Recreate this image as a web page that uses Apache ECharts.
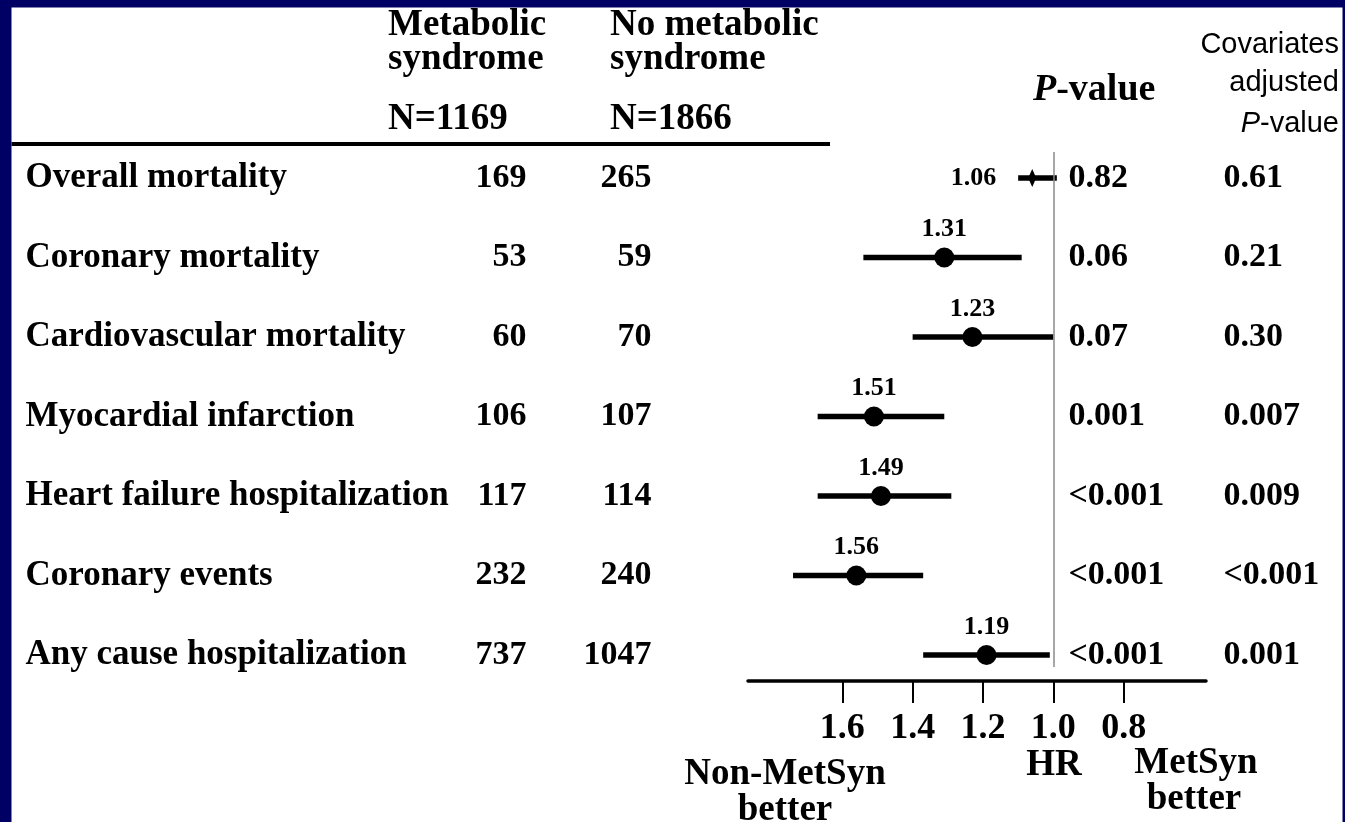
<!DOCTYPE html>
<html>
<head>
<meta charset="utf-8">
<script src="https://cdn.jsdelivr.net/npm/echarts@6/dist/echarts.min.js"></script>
<style>
  html, body { margin: 0; padding: 0; background: #000064; }
  #chart { width: 1345px; height: 822px; }
</style>
</head>
<body>
<div id="chart"></div>
<script>
// Outcomes and event counts
const outcomes = [
  'Overall mortality',
  'Coronary mortality',
  'Cardiovascular mortality',
  'Myocardial infarction',
  'Heart failure hospitalization',
  'Coronary events',
  'Any cause hospitalization'
];
const eventsMetSyn = [169, 53, 60, 106, 117, 232, 737];
const eventsNoMetSyn = [265, 59, 70, 107, 114, 240, 1047];

// Hazard ratios with confidence limits
const hazardRatio = [1.06, 1.31, 1.23, 1.51, 1.49, 1.56, 1.19];
const ciLower = [0.99, 1.09, 1.00, 1.31, 1.29, 1.37, 1.01];
const ciUpper = [1.10, 1.54, 1.40, 1.67, 1.67, 1.74, 1.37];

// P-values
const pValue = ['0.82', '0.06', '0.07', '0.001', '<0.001', '<0.001', '<0.001'];
const pAdjusted = ['0.61', '0.21', '0.30', '0.007', '0.009', '<0.001', '0.001'];

// HR axis ticks
const hrTicks = [0.8, 1.0, 1.2, 1.4, 1.6];

const SERIF = "'Liberation Serif', 'Times New Roman', serif";
const SANS = "'Liberation Sans', Arial, sans-serif";

// Row layout shared by the table and the forest plot
const plotTop = 152, plotHeight = 529;
const rowMin = -0.327, rowMax = 6.327;

// Column anchors of the text table (pixels across the page)
const colName = 25, colMetSyn = 527, colNoMetSyn = 652, colP = 1068, colPAdj = 1223;

function textColumn(values, x, side, size) {
  return {
    type: 'scatter',
    xAxisIndex: 1,
    yAxisIndex: 1,
    symbolSize: 1,
    itemStyle: { color: 'rgba(0,0,0,0)', opacity: 1 },
    silent: true,
    data: values.map((v, i) => ({ value: [x, i], name: String(v) })),
    label: {
      show: true,
      position: side,
      distance: 0,
      formatter: p => p.name,
      fontFamily: SERIF,
      fontWeight: 'bold',
      fontSize: size,
      color: '#000'
    }
  };
}

function gText(text, x, y, opt) {
  return {
    type: 'text',
    x: x,
    y: y,
    silent: true,
    style: Object.assign({
      text: text,
      fill: '#000',
      font: 'bold 37px ' + SERIF,
      textAlign: 'left',
      textVerticalAlign: 'middle'
    }, opt || {})
  };
}

const chart = echarts.init(document.getElementById('chart'), null, { renderer: 'canvas' });

chart.setOption({
  animation: false,
  backgroundColor: '#000064',
  graphic: [
    { type: 'rect', shape: { x: 11.5, y: 7.5, width: 1331, height: 830 }, style: { fill: '#fff' }, silent: true, z: -10 },
    // header rule
    { type: 'line', shape: { x1: 11.5, y1: 144, x2: 830, y2: 144 }, style: { stroke: '#000', lineWidth: 4 }, silent: true },
    // group headers
    gText('Metabolic', 388, 25),
    gText('syndrome', 388, 59),
    gText('N=1169', 388, 119),
    gText('No metabolic', 610, 25),
    gText('syndrome', 610, 59),
    gText('N=1866', 610, 119),
    {
      type: 'text', x: 1033, y: 90, silent: true,
      style: {
        text: '{p|P}{v|-value}',
        textVerticalAlign: 'middle',
        rich: {
          p: { font: 'italic bold 38px ' + SERIF, fill: '#000' },
          v: { font: 'bold 38px ' + SERIF, fill: '#000' }
        }
      }
    },
    gText('Covariates', 1339, 45, { font: '29px ' + SANS, textAlign: 'right' }),
    gText('adjusted', 1339, 83, { font: '29px ' + SANS, textAlign: 'right' }),
    {
      type: 'text', x: 1339, y: 124, silent: true,
      style: {
        text: '{p|P}{v|-value}',
        textAlign: 'right',
        textVerticalAlign: 'middle',
        rich: {
          p: { font: 'italic 29px ' + SANS, fill: '#000' },
          v: { font: '29px ' + SANS, fill: '#000' }
        }
      }
    },
    // direction captions under the HR axis
    gText('Non-MetSyn', 785, 774, { textAlign: 'center' }),
    gText('better', 785, 810, { textAlign: 'center' }),
    gText('HR', 1054, 765, { textAlign: 'center' }),
    gText('MetSyn', 1196, 763, { textAlign: 'center' }),
    gText('better', 1194, 799, { textAlign: 'center' })
  ],
  grid: [
    { left: 748, right: 139, top: plotTop, height: plotHeight },
    { left: 0, right: 0, top: plotTop, height: plotHeight }
  ],
  xAxis: [
    {
      type: 'value',
      gridIndex: 0,
      inverse: true,
      min: 0.566,
      max: 1.868,
      position: 'bottom',
      splitLine: { show: false },
      axisLine: { show: true, onZero: false, lineStyle: { color: '#000', width: 3.5 } },
      axisTick: { show: true, customValues: hrTicks, length: 22, lineStyle: { color: '#000', width: 2 } },
      axisLabel: {
        show: true,
        customValues: hrTicks,
        formatter: v => Number(v).toFixed(1),
        margin: 30,
        fontFamily: SERIF,
        fontWeight: 'bold',
        fontSize: 36,
        color: '#000'
      }
    },
    { type: 'value', gridIndex: 1, min: 0, max: 1345, show: false }
  ],
  yAxis: [
    { type: 'value', gridIndex: 0, inverse: true, min: rowMin, max: rowMax, show: false },
    { type: 'value', gridIndex: 1, inverse: true, min: rowMin, max: rowMax, show: false }
  ],
  series: [
    // reference line at HR = 1
    {
      type: 'line',
      xAxisIndex: 0,
      yAxisIndex: 0,
      data: [],
      silent: true,
      markLine: {
        symbol: 'none',
        silent: true,
        label: { show: false },
        lineStyle: { color: '#8a8a8a', width: 1.5, type: 'solid' },
        data: [[{ coord: [1, rowMin] }, { coord: [1, 6.15] }]]
      }
    },
    // confidence intervals
    {
      type: 'custom',
      xAxisIndex: 0,
      yAxisIndex: 0,
      silent: true,
      data: outcomes.map((_, i) => [i, ciLower[i], ciUpper[i]]),
      encode: { x: [1, 2], y: 0 },
      renderItem: (params, api) => {
        const a = api.coord([api.value(1), api.value(0)]);
        const b = api.coord([api.value(2), api.value(0)]);
        return {
          type: 'line',
          shape: { x1: a[0], y1: a[1], x2: b[0], y2: b[1] },
          style: { stroke: '#000', lineWidth: 5.5 }
        };
      }
    },
    // point estimates
    {
      type: 'scatter',
      xAxisIndex: 0,
      yAxisIndex: 0,
      silent: true,
      z: 5,
      itemStyle: { color: '#000', opacity: 1 },
      data: hazardRatio.map((v, i) => i === 0
        ? { value: [v, i], symbol: 'diamond', symbolSize: [8, 18], label: { position: 'left', distance: 32 } }
        : { value: [v, i], symbol: 'circle', symbolSize: 20 }),
      label: {
        show: true,
        position: 'top',
        distance: 5,
        formatter: p => p.value[0].toFixed(2),
        fontFamily: SERIF,
        fontWeight: 'bold',
        fontSize: 26,
        color: '#000'
      }
    },
    // table columns
    textColumn(outcomes, colName, 'right', 35),
    textColumn(eventsMetSyn, colMetSyn, 'left', 34),
    textColumn(eventsNoMetSyn, colNoMetSyn, 'left', 34),
    textColumn(pValue, colP, 'right', 34),
    textColumn(pAdjusted, colPAdj, 'right', 34)
  ]
});
</script>
</body>
</html>
